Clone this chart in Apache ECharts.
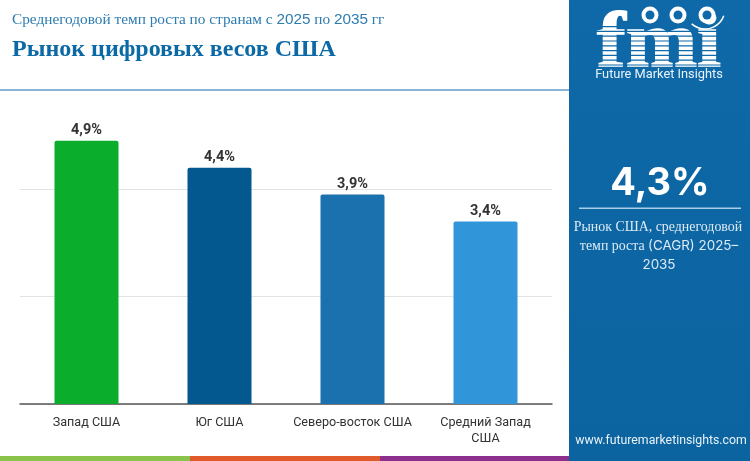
<!DOCTYPE html>
<html>
<head>
<meta charset="utf-8">
<style>
html,body{margin:0;padding:0;background:#fff}
#chart{width:750px;height:461px}
</style>
<script src="https://cdn.jsdelivr.net/npm/echarts@6/dist/echarts.min.js"></script>
</head>
<body>
<div id="chart"></div>
<script>
var categories = ['Запад США', 'Юг США', 'Северо-восток США', 'Средний Запад\nСША'];
var values = [4.9, 4.4, 3.9, 3.4];
var barColors = ['#0aad2c', '#03598f', '#1a71ae', '#3096d9'];
var stripColors = ['#8bc34a', '#e05a2b', '#8c2f8d'];

var serif = '"Liberation Serif"';
var sans = 'Roboto';
var myChart = echarts.init(document.getElementById('chart'));

// логотип: белые буквы, поверх синие полоски
var logo = [
    {type:'text', x:659, y:46, scaleX:1.1, style:{text:'fmi', fill:'#fff', stroke:'#fff', lineWidth:1.5, font:'bold 78px '+serif, align:'center', verticalAlign:'middle'}}
];
for (var s = 0; s < 9; s++) {
    logo.push({type:'rect', shape:{x:594, y:26+s*4.8, width:132, height:1.2}, style:{fill:'#0f69a8'}});
}
[650, 678, 707].forEach(function (cx) {
    logo.push({type:'circle', shape:{cx:cx, cy:15, r:8.5}, style:{fill:'#fff'}});
    logo.push({type:'circle', shape:{cx:cx, cy:15, r:4.5}, style:{fill:'#0f69a8'}});
});
logo.push({type:'arc', shape:{cx:705, cy:9, r:20, startAngle:0.35, endAngle:2.3}, style:{stroke:'#fff', lineWidth:1.5, fill:null}});

var option = {
    animation: false,
    grid: {left:20, right:198, top:135.5, bottom:57},
    xAxis: {
        type: 'category',
        data: categories,
        axisLine: {lineStyle:{color:'#555', width:1.5}},
        axisTick: {show:false},
        axisLabel: {color:'#333', fontFamily:sans, fontSize:12.6, margin:11, lineHeight:16, interval:0}
    },
    yAxis: {
        type: 'value',
        min: 0,
        max: 5,
        interval: 2,
        axisLine: {show:false},
        axisTick: {show:false},
        axisLabel: {show:false},
        splitLine: {showMaxLine:false, lineStyle:{color:'#e3e3e3', width:1}}
    },
    series: [{
        type: 'bar',
        barWidth: 64,
        data: values.map(function (v, i) {
            return {value:v, itemStyle:{color:barColors[i], borderRadius:[2,2,0,0]}};
        }),
        label: {
            show: true,
            position: 'top',
            distance: 3,
            color: '#333',
            fontFamily: sans,
            fontWeight: 'bold',
            fontSize: 14.5,
            formatter: function (p) { return String(p.value).replace('.', ',') + '%'; }
        }
    }],
    graphic: [
        {type:'rect', z:-1, shape:{x:569, y:0, width:181, height:461}, style:{
            fill:new echarts.graphic.LinearGradient(0,0,0,1,[{offset:0,color:'#0f69a8'},{offset:1,color:'#0b639f'}])
        }},
        {type:'rect', shape:{x:0, y:89, width:569, height:2}, style:{fill:'#8ab6d6'}},
        {type:'rect', shape:{x:0, y:456, width:190, height:5}, style:{fill:stripColors[0]}},
        {type:'rect', shape:{x:190, y:456, width:190, height:5}, style:{fill:stripColors[1]}},
        {type:'rect', shape:{x:380, y:456, width:189, height:5}, style:{fill:stripColors[2]}},
        {type:'text', x:12, y:20, style:{
            text:'{a|Среднегодовой темп роста по странам с }{b|2025}{a| по }{b|2035}{a| гг}',
            verticalAlign:'middle',
            rich:{a:{font:'15.3px '+serif, fill:'#2d7cb0'}, b:{font:'15.3px "Liberation Sans"', fill:'#2d7cb0'}}
        }},
        {type:'text', x:12, y:50, style:{text:'Рынок цифровых весов США', fill:'#0b69a5', font:'bold 24px '+serif, verticalAlign:'middle'}},
        {type:'text', x:659, y:75, style:{text:'Future Market Insights', fill:'#e8f2f9', font:'12.8px '+sans, align:'center', verticalAlign:'middle'}},
        {type:'text', x:660, y:184, style:{text:'4,3%', fill:'#fff', font:'bold 38px Inter', align:'center', verticalAlign:'middle'}},
        {type:'rect', shape:{x:579, y:207.5, width:162, height:1.5}, style:{fill:'#a9cfe8'}},
        {type:'text', x:658, y:227, style:{text:'Рынок США, среднегодовой', fill:'#dcebf6', font:'13.9px '+serif, align:'center', verticalAlign:'middle'}},
        {type:'text', x:659, y:246, style:{
            text:'{a|темп роста }{b|(CAGR) 2025–}',
            align:'center', verticalAlign:'middle',
            rich:{a:{font:'13.9px '+serif, fill:'#dcebf6'}, b:{font:'13.4px Inter', fill:'#dcebf6'}}
        }},
        {type:'text', x:659, y:265, style:{text:'2035', fill:'#dcebf6', font:'13.4px Inter', align:'center', verticalAlign:'middle'}},
        {type:'text', x:661, y:441, style:{text:'www.futuremarketinsights.com', fill:'#e8f2f9', font:'12.3px '+sans, align:'center', verticalAlign:'middle'}}
    ].concat(logo)
};
myChart.setOption(option);
</script>
</body>
</html>
